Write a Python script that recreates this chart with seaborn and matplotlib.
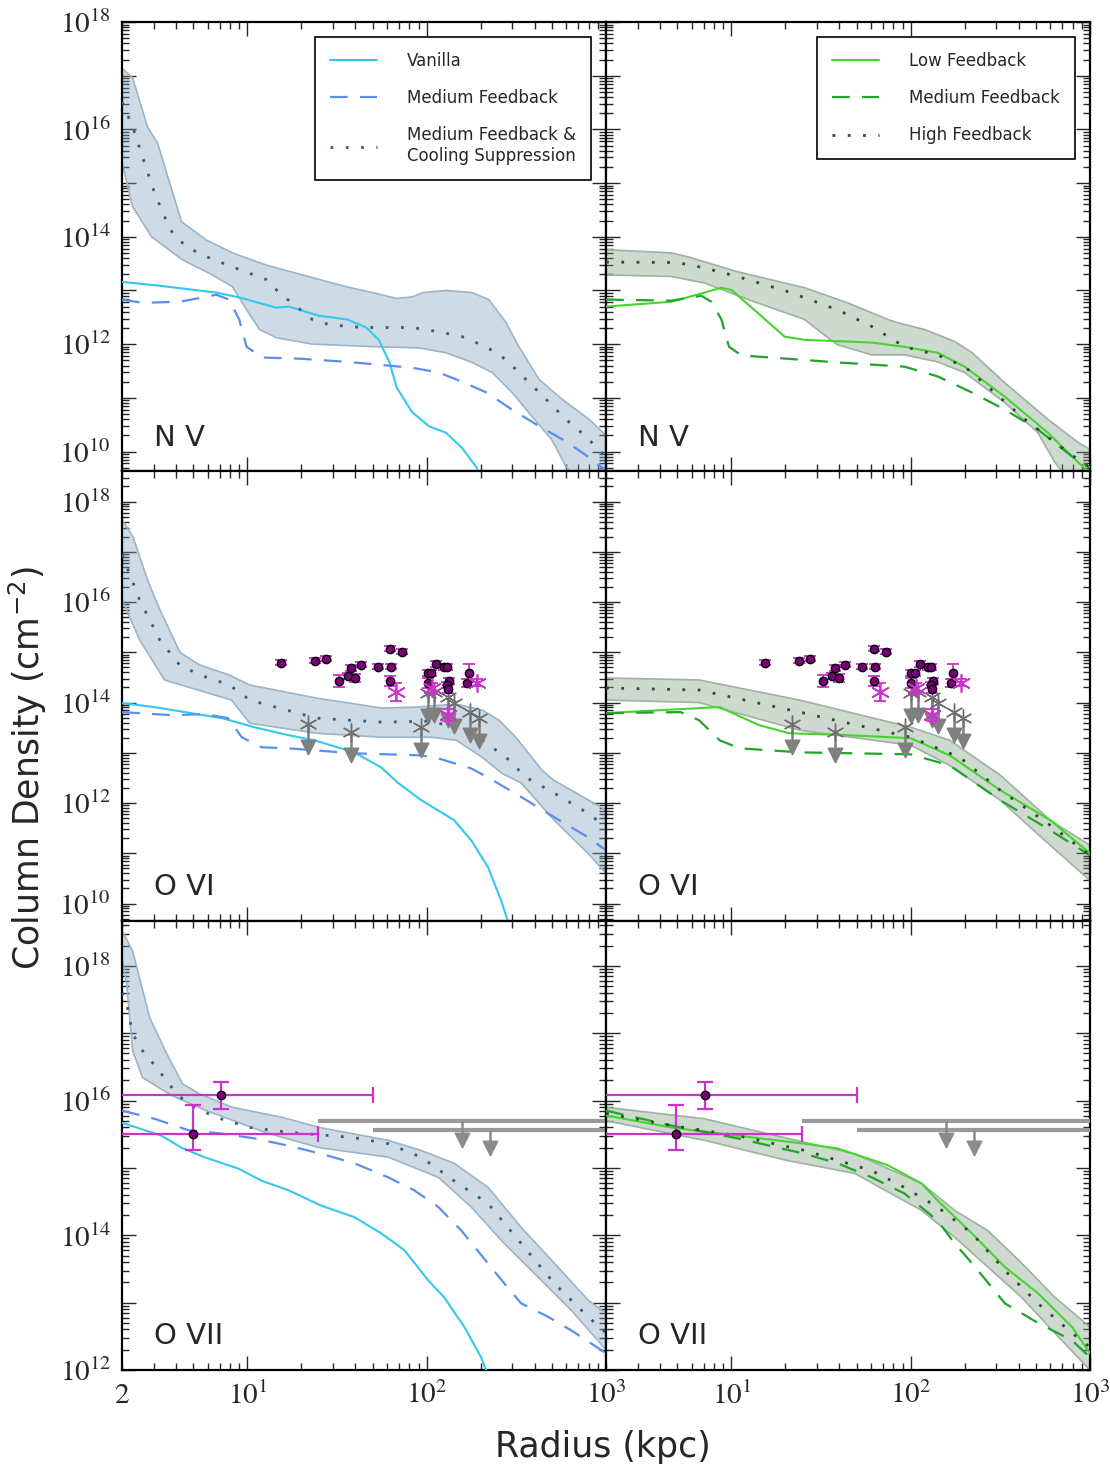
import numpy as np
import pandas as pd
import matplotlib
matplotlib.use("Agg")
import matplotlib.pyplot as plt
import seaborn as sns
from matplotlib.ticker import LogLocator, FuncFormatter, NullFormatter, FixedLocator

sns.set_style("ticks")
plt.rcParams["font.family"] = ["DejaVu Sans"]
plt.rcParams["mathtext.fontset"] = "stix"

# ---------------- data (log10 column density vs radius in kpc) ----------------
# N V, left panel
nv_van_x = [2, 3.2, 6.7, 9, 14.5, 17, 25, 36, 46, 54, 62, 68, 83, 103, 128, 157, 190, 200]
nv_van_y = [13.16, 13.09, 12.96, 12.87, 12.68, 12.70, 12.53, 12.46, 12.31, 12.08, 11.66, 11.19,
            10.73, 10.47, 10.35, 10.07, 9.70, 9.5]
nv_med_x = [2, 2.6, 4.2, 6.7, 7.9, 9.0, 9.9, 12.1, 19.5, 36, 83, 117, 157, 215, 299, 424, 597, 804, 1000]
nv_med_y = [12.83, 12.77, 12.79, 12.92, 12.83, 12.46, 11.95, 11.75, 11.73, 11.67, 11.56, 11.47,
            11.30, 11.10, 10.78, 10.47, 10.19, 9.89, 9.65]
nv_cs_x = [2, 2.29, 2.6, 2.95, 3.36, 3.82, 4.57, 5.9, 8.25, 12.8, 15.1, 18.8, 23, 28.7, 44, 83,
           117, 157, 215, 277, 358, 464, 597, 771, 910, 1000]
nv_cs_y = [16.51, 16.05, 15.49, 14.93, 14.45, 14.07, 13.81, 13.63, 13.44, 13.20, 12.95, 12.70,
           12.46, 12.36, 12.31, 12.31, 12.23, 12.14, 11.95, 11.71, 11.34, 10.97, 10.60, 10.28,
           10.04, 9.9]
nv_bandb_up_x = [2, 2.29, 2.77, 3.15, 4.29, 5.9, 8.25, 12.8, 23, 35.6, 50, 68, 83, 95, 128, 179,
                 222, 277, 327, 424, 570, 804, 1000]
nv_bandb_up_y = [17.14, 16.96, 16.05, 15.75, 14.28, 13.94, 13.70, 13.47, 13.24, 13.07, 12.96,
                 12.85, 12.88, 12.96, 13.0, 12.96, 12.83, 12.40, 11.95, 11.34, 10.97, 10.60, 10.3]
nv_bandb_lo_x = [2, 2.29, 2.92, 4.34, 6.37, 8.25, 9.9, 11.7, 14.5, 23, 54, 90, 128, 179, 232,
                 299, 387, 498, 597, 1000]
nv_bandb_lo_y = [15.38, 14.56, 14.0, 13.57, 13.29, 13.07, 12.64, 12.27, 12.12, 12.0, 11.95, 11.93,
                 11.84, 11.66, 11.47, 11.10, 10.65, 10.22, 9.72, 8.9]

# N V, right panel
nv_low_x = [2, 4.62, 7.07, 8.8, 10, 13.4, 19.8, 25.6, 60.6, 92.4, 141, 200, 335, 582, 857, 1000]
nv_low_y = [12.70, 12.79, 12.96, 13.05, 13.01, 12.64, 12.14, 12.08, 12.03, 11.95, 11.84, 11.58,
            11.02, 10.35, 9.8, 9.6]
nv_medg_x = [2, 4.62, 6.8, 7.73, 8.8, 9.7, 11.4, 16.7, 39, 92.4, 141, 219, 335, 512, 793, 1000]
nv_medg_y = [12.83, 12.81, 12.90, 12.79, 12.46, 11.95, 11.79, 11.75, 11.66, 11.58, 11.40, 11.10,
             10.78, 10.41, 9.91, 9.7]
nv_high_x = [2, 5.0, 7.07, 10.8, 20.6, 39, 60.6, 92.4, 141, 200, 269, 415, 636, 857, 1000]
nv_high_y = [13.53, 13.52, 13.42, 13.26, 12.98, 12.64, 12.33, 11.95, 11.80, 11.58, 11.21, 10.65,
             10.17, 9.85, 9.7]
nv_bandg_up_x = [2, 4.62, 5.68, 10.8, 25.6, 44.5, 74.5, 84.5, 120, 176, 220, 335, 582, 857, 1000]
nv_bandg_up_y = [13.76, 13.70, 13.63, 13.35, 13.05, 12.77, 12.46, 12.40, 12.27, 12.05, 11.84,
                 11.28, 10.6, 10.17, 10.04]
nv_bandg_lo_x = [2, 4.62, 7.07, 13.4, 25.6, 31.8, 39, 60.6, 92.4, 141, 200, 335, 512, 636, 1000]
nv_bandg_lo_y = [13.29, 13.26, 13.14, 12.79, 12.46, 12.21, 11.99, 11.80, 11.80, 11.67, 11.47,
                 10.91, 10.35, 9.8, 9.0]

# O VI, left panel
ovi_van_x = [2, 3.03, 7.2, 10.9, 17, 23.6, 39.4, 55.7, 69.3, 93, 120, 142, 177, 220, 260, 283, 300]
ovi_van_y = [13.99, 13.91, 13.69, 13.51, 13.35, 13.25, 13.01, 12.71, 12.40, 12.06, 11.82, 11.66,
             11.26, 10.72, 10.06, 9.66, 9.3]
ovi_med_x = [2, 3.78, 5.75, 7.8, 9.3, 12, 17, 39.4, 93, 116, 177, 220, 337, 513, 793, 1000]
ovi_med_y = [13.81, 13.75, 13.77, 13.69, 13.31, 13.11, 13.09, 12.99, 12.95, 12.89, 12.69, 12.51,
             12.12, 11.72, 11.32, 11.06]
ovi_cs_x = [2, 2.5, 3.24, 4.18, 5.41, 7.94, 10.3, 24.2, 56.5, 103, 146, 204, 277, 358, 513, 793, 1000]
ovi_cs_y = [16.95, 16.05, 15.25, 14.75, 14.55, 14.35, 14.05, 13.69, 13.61, 13.63, 13.51, 13.25,
            12.91, 12.51, 12.20, 11.80, 11.52]
ovi_bandb_up_x = [2, 2.3, 2.8, 3.2, 4.2, 5.4, 7.9, 10.3, 24.2, 56.5, 87, 146, 204, 253, 314, 440,
                  513, 638, 1000]
ovi_bandb_up_y = [17.64, 17.3, 16.4, 15.9, 15.0, 14.75, 14.55, 14.35, 14.09, 13.89, 13.91, 13.97,
                  13.85, 13.65, 13.31, 12.65, 12.45, 12.26, 11.86]
ovi_bandb_lo_x = [2, 2.5, 3.45, 8.15, 10.3, 24.2, 56.5, 107, 146, 204, 263, 336, 513, 793, 1000]
ovi_bandb_lo_y = [16.05, 15.25, 14.45, 14.05, 13.59, 13.39, 13.31, 13.31, 13.25, 12.91, 12.59,
                  12.40, 11.66, 11.0, 10.6]

# O VI, right panel
ovi_low_x = [2, 6.6, 8.6, 14.3, 21, 45.6, 100, 165, 315, 600, 1000]
ovi_low_y = [13.79, 13.89, 13.91, 13.55, 13.39, 13.35, 13.29, 12.95, 12.26, 11.66, 11.0]
ovi_medg_x = [2, 5.2, 6.6, 8.6, 11.1, 24, 100, 165, 315, 600, 1000]
ovi_medg_y = [13.79, 13.81, 13.65, 13.25, 13.09, 13.01, 12.97, 12.75, 12.06, 11.46, 10.96]
ovi_high_x = [2, 6.6, 24, 100, 188, 315, 600, 1000]
ovi_high_y = [14.29, 14.25, 13.81, 13.31, 12.91, 12.26, 11.56, 10.96]
ovi_bandg_up_x = [2, 6.6, 24, 100, 165, 315, 600, 1000]
ovi_bandg_up_y = [14.49, 14.45, 14.05, 13.51, 13.25, 12.56, 11.66, 11.16]
ovi_bandg_lo_x = [2, 6.6, 24, 100, 165, 315, 600, 1000]
ovi_bandg_lo_y = [14.05, 14.0, 13.45, 13.15, 12.75, 12.06, 11.16, 10.46]

# O VII, left panel
ovii_van_x = [2, 3.31, 4.29, 5.75, 8.9, 12, 16.9, 25.8, 39.4, 55.7, 75, 102, 125, 162, 201, 214, 230]
ovii_van_y = [15.67, 15.48, 15.30, 15.16, 14.99, 14.81, 14.67, 14.44, 14.27, 14.03, 13.78, 13.33,
              13.08, 12.64, 12.19, 12.0, 11.7]
ovii_med_x = [2, 3.03, 4.69, 7.16, 10.9, 16.9, 25.8, 39.4, 61, 85, 116, 156, 220, 270, 336, 475, 638, 1000]
ovii_med_y = [15.85, 15.73, 15.56, 15.51, 15.44, 15.33, 15.21, 15.07, 14.86, 14.67, 14.42, 14.07,
              13.58, 13.29, 12.99, 12.79, 12.59, 12.25]
ovii_cs_x = [2, 2.12, 2.29, 2.6, 3.11, 3.82, 4.57, 6.7, 10.3, 16.9, 39.4, 61, 93, 142, 220, 336,
             513, 793, 1000]
ovii_cs_y = [17.6, 17.44, 16.99, 16.74, 16.49, 16.18, 15.96, 15.75, 15.60, 15.53, 15.45, 15.36,
             15.16, 14.81, 14.47, 13.88, 13.29, 12.79, 12.55]
ovii_bandb_up_x = [2, 2.29, 2.85, 3.54, 4.34, 5.4, 8.25, 15.7, 25.2, 61, 93, 142, 220, 336, 513, 793, 1000]
ovii_bandb_up_y = [18.52, 18.22, 17.23, 16.70, 16.25, 16.10, 15.90, 15.75, 15.60, 15.41, 15.26,
                   15.07, 14.71, 14.12, 13.59, 13.04, 12.84]
ovii_bandb_lo_x = [2, 2.12, 2.29, 2.6, 3.82, 5.9, 12.8, 25.2, 61, 116, 177, 270, 418, 638, 1000]
ovii_bandb_lo_y = [18.1, 17.73, 16.74, 16.34, 16.07, 15.85, 15.52, 15.30, 15.16, 14.86, 14.42,
                   13.88, 13.38, 12.89, 12.30]

# O VII, right panel
ovii_low_x = [2, 4.62, 10.8, 25.6, 39, 74.5, 115, 141, 219, 335, 512, 793, 1000]
ovii_low_y = [15.78, 15.60, 15.48, 15.36, 15.29, 15.04, 14.77, 14.52, 14.03, 13.53, 13.14, 12.64, 12.25]
ovii_medg_x = [2, 4.62, 10.8, 25.6, 39, 60.6, 92.4, 141, 176, 219, 335, 512, 793, 1000]
ovii_medg_y = [15.85, 15.63, 15.44, 15.21, 15.07, 14.86, 14.62, 14.22, 13.88, 13.59, 12.99, 12.70,
               12.44, 12.19]
ovii_high_x = [2, 4.62, 10.8, 25.6, 60.6, 92.4, 141, 219, 335, 512, 793, 1000]
ovii_high_y = [15.81, 15.63, 15.48, 15.26, 14.96, 14.71, 14.42, 14.03, 13.48, 12.99, 12.55, 12.34]
ovii_bandg_up_x = [2, 7.07, 20.5, 48.6, 115, 176, 269, 415, 636, 1000]
ovii_bandg_up_y = [15.90, 15.73, 15.44, 15.21, 14.77, 14.37, 14.07, 13.59, 13.08, 12.64]
ovii_bandg_lo_x = [2, 7.07, 20.5, 48.6, 115, 176, 269, 415, 636, 1000]
ovii_bandg_lo_y = [15.70, 15.41, 15.11, 14.92, 14.37, 13.97, 13.53, 13.08, 12.55, 12.0]

# O VI observations
ovi_det_x = [15.3, 23.9, 27.5, 32.5, 36.4, 38, 40, 43, 53.7, 63.3, 62.7, 73, 62.7, 101, 106, 113,
             125, 130, 101, 133, 130, 132, 173, 168]
ovi_det_y = [14.79, 14.83, 14.87, 14.43, 14.53, 14.69, 14.49, 14.75, 14.71, 14.71, 15.07, 15.01,
             14.43, 14.59, 14.59, 14.77, 14.71, 14.71, 14.39, 14.43, 14.35, 14.27, 14.59, 14.39]
ovi_det_err = [0.05, 0.05, 0.05, 0.12, 0.06, 0.06, 0.08, 0.05, 0.05, 0.05, 0.05, 0.05, 0.10, 0.06,
               0.06, 0.06, 0.06, 0.06, 0.10, 0.06, 0.06, 0.08, 0.18, 0.08]
ovi_sat_x = [67.6, 107, 190, 132]
ovi_sat_y = [14.21, 14.29, 14.39, 13.75]
ovi_sat_err = [0.18, 0.10, 0.07, 0.12]
ovi_ul_x = [21.9, 38, 93, 101, 110, 132, 142, 174, 195]
ovi_ul_y = [13.57, 13.41, 13.51, 14.19, 14.21, 14.11, 13.99, 13.81, 13.69]

# O VII observations
ovii_det_x = [7.08, 4.94]
ovii_det_xlo = [1.0, 1.0]
ovii_det_xhi = [50.0, 24.8]
ovii_det_y = [16.09, 15.51]
ovii_det_ylo = [15.88, 15.27]
ovii_det_yhi = [16.28, 15.93]
ovii_ul_x = [157, 224]
ovii_ul_xlo = [24.8, 50.0]
ovii_ul_xhi = [1000.0, 1000.0]
ovii_ul_y = [15.69, 15.57]

ions = ["N V", "O VI", "O VII"]
ylims = [(10**9.63, 1e18), (10**9.66, 10**18.6), (1e12, 10**18.67)]
y_major = [[1e10, 1e11, 1e12, 1e13, 1e14, 1e15, 1e16, 1e17, 1e18],
           [1e10, 1e11, 1e12, 1e13, 1e14, 1e15, 1e16, 1e17, 1e18],
           [1e12, 1e13, 1e14, 1e15, 1e16, 1e17, 1e18]]
x_major = [10, 100, 1000]
x_minor = [2, 3, 4, 5, 6, 7, 8, 9, 20, 30, 40, 50, 60, 70, 80, 90,
           200, 300, 400, 500, 600, 700, 800, 900]

# ---------------- style ----------------
VAN = "#33c8f4"
MEDB = "#5b8ef2"
CSB = "#2f5f82"
BANDB_F = "#7f9fba"
BANDB_E = "#9cb4c8"
LOWG = "#44d62c"
MEDG = "#1fa52a"
HIGHG = "#2f4a2f"
BANDG_F = "#7f9b82"
BANDG_E = "#9db29f"
DASH = (0, (8, 5.5))
DOT = (0, (1, 4.5))

left_sets = [
    (nv_van_x, nv_van_y, nv_med_x, nv_med_y, nv_cs_x, nv_cs_y,
     nv_bandb_up_x, nv_bandb_up_y, nv_bandb_lo_x, nv_bandb_lo_y),
    (ovi_van_x, ovi_van_y, ovi_med_x, ovi_med_y, ovi_cs_x, ovi_cs_y,
     ovi_bandb_up_x, ovi_bandb_up_y, ovi_bandb_lo_x, ovi_bandb_lo_y),
    (ovii_van_x, ovii_van_y, ovii_med_x, ovii_med_y, ovii_cs_x, ovii_cs_y,
     ovii_bandb_up_x, ovii_bandb_up_y, ovii_bandb_lo_x, ovii_bandb_lo_y),
]
right_sets = [
    (nv_low_x, nv_low_y, nv_medg_x, nv_medg_y, nv_high_x, nv_high_y,
     nv_bandg_up_x, nv_bandg_up_y, nv_bandg_lo_x, nv_bandg_lo_y),
    (ovi_low_x, ovi_low_y, ovi_medg_x, ovi_medg_y, ovi_high_x, ovi_high_y,
     ovi_bandg_up_x, ovi_bandg_up_y, ovi_bandg_lo_x, ovi_bandg_lo_y),
    (ovii_low_x, ovii_low_y, ovii_medg_x, ovii_medg_y, ovii_high_x, ovii_high_y,
     ovii_bandg_up_x, ovii_bandg_up_y, ovii_bandg_lo_x, ovii_bandg_lo_y),
]

fig, axes = plt.subplots(3, 2, figsize=(11.1, 14.7), dpi=100, sharey="row")
fig.subplots_adjust(left=0.110, right=0.982, top=0.985, bottom=0.068, wspace=0, hspace=0)


def band(ax, ux, uy, lx, ly, fc, ec):
    xs = np.r_[np.asarray(ux, float), np.asarray(lx, float)[::-1]]
    ys = 10 ** np.r_[np.asarray(uy, float), np.asarray(ly, float)[::-1]]
    ax.fill(xs, ys, facecolor=fc, alpha=0.38, edgecolor="none", zorder=1)
    ax.plot(ux, 10 ** np.asarray(uy), color=ec, lw=1.2, zorder=1.5)
    ax.plot(lx, 10 ** np.asarray(ly), color=ec, lw=1.2, zorder=1.5)


def line(ax, x, y, color, ls, lw, label):
    df = pd.DataFrame({"r": x, "N": 10 ** np.asarray(y, float)})
    sns.lineplot(data=df, x="r", y="N", ax=ax, color=color, linestyle=ls, lw=lw,
                 label=label, errorbar=None, zorder=3)


def ovi_obs(ax):
    x = np.asarray(ovi_det_x)
    y = np.asarray(ovi_det_y)
    e = np.asarray(ovi_det_err)
    ax.errorbar(x, 10 ** y, yerr=[10 ** y - 10 ** (y - e), 10 ** (y + e) - 10 ** y], fmt="none",
                ecolor="#cc33cc", elinewidth=1.3, capsize=4, capthick=1.3, zorder=5)
    sns.scatterplot(x=x, y=10 ** y, ax=ax, color="#7a007a", edgecolor="black", linewidth=1.0,
                    s=36, zorder=6, legend=False)
    xs = np.asarray(ovi_sat_x)
    ys = np.asarray(ovi_sat_y)
    es = np.asarray(ovi_sat_err)
    ax.errorbar(xs, 10 ** ys, yerr=[10 ** ys - 10 ** (ys - es), 10 ** (ys + es) - 10 ** ys],
                fmt="none", ecolor="#cc33cc", elinewidth=1.3, capsize=4, capthick=1.3, zorder=5)
    ax.scatter(xs, 10 ** ys, marker=(6, 2, 0), s=160, color="#cc33cc", linewidths=1.2, zorder=6)
    xu = np.asarray(ovi_ul_x)
    yu = np.asarray(ovi_ul_y)
    ax.vlines(xu, 10 ** (yu - 0.45), 10 ** yu, color="#7f7f7f", lw=1.8, zorder=4)
    ax.scatter(xu, 10 ** (yu - 0.45), marker="v", s=110, color="#7f7f7f", zorder=4)
    ax.scatter(xu, 10 ** yu, marker=(6, 2, 0), s=150, color="#6f6f6f", linewidths=1.0, zorder=4)


def ovii_obs(ax):
    x = np.asarray(ovii_det_x)
    y = np.asarray(ovii_det_y)
    ax.errorbar(x, 10 ** y,
                xerr=[x - np.asarray(ovii_det_xlo), np.asarray(ovii_det_xhi) - x],
                yerr=[10 ** y - 10 ** np.asarray(ovii_det_ylo), 10 ** np.asarray(ovii_det_yhi) - 10 ** y],
                fmt="none", ecolor="#cc33cc", elinewidth=1.6, capsize=6, capthick=1.6, zorder=5)
    sns.scatterplot(x=x, y=10 ** y, ax=ax, color="#7a007a", edgecolor="black", linewidth=1.0,
                    s=36, zorder=6, legend=False)
    xu = np.asarray(ovii_ul_x)
    yu = np.asarray(ovii_ul_y)
    ax.hlines(10 ** yu, ovii_ul_xlo, ovii_ul_xhi, color="#9a9a9a", lw=3.0, zorder=4)
    ax.vlines(xu, 10 ** (yu - 0.28), 10 ** yu, color="#8a8a8a", lw=1.8, zorder=4)
    ax.scatter(xu, 10 ** (yu - 0.28), marker="v", s=110, color="#8a8a8a", zorder=4)


def ytick_fmt(v, pos):
    n = int(round(np.log10(v)))
    return r"$10^{%d}$" % n if n % 2 == 0 else ""


for row in range(3):
    axl, axr = axes[row]
    (vx, vy, mx, my, cx, cy, ux, uy, lx, ly) = left_sets[row]
    axl.set_xscale("log")
    axl.set_yscale("log")
    band(axl, ux, uy, lx, ly, BANDB_F, BANDB_E)
    line(axl, vx, vy, VAN, "-", 1.5, "Vanilla")
    line(axl, mx, my, MEDB, DASH, 1.6, "Medium Feedback")
    line(axl, cx, cy, CSB, DOT, 2.0, "Medium Feedback &\nCooling Suppression")

    (vx, vy, mx, my, cx, cy, ux, uy, lx, ly) = right_sets[row]
    axr.set_xscale("log")
    axr.set_yscale("log")
    band(axr, ux, uy, lx, ly, BANDG_F, BANDG_E)
    line(axr, vx, vy, LOWG, "-", 1.5, "Low Feedback")
    line(axr, mx, my, MEDG, DASH, 1.6, "Medium Feedback")
    line(axr, cx, cy, HIGHG, DOT, 2.0, "High Feedback")

    if row == 1:
        ovi_obs(axl)
        ovi_obs(axr)
    if row == 2:
        ovii_obs(axl)
        ovii_obs(axr)

    for j, ax in enumerate((axl, axr)):
        ax.set_xlim(2, 1000)
        ax.set_ylim(*ylims[row])
        ax.set_xlabel("")
        ax.set_ylabel("")
        ax.text(0.065, 0.075, ions[row], transform=ax.transAxes, fontsize=21, va="center",
                ha="left", zorder=10)
        ax.xaxis.set_major_locator(FixedLocator(x_major))
        ax.xaxis.set_minor_locator(FixedLocator(x_minor))
        ax.yaxis.set_major_locator(FixedLocator(y_major[row]))
        ax.yaxis.set_minor_locator(LogLocator(base=10, subs=np.arange(2, 10) * 1.0, numticks=100))
        ax.yaxis.set_major_formatter(FuncFormatter(ytick_fmt))
        ax.yaxis.set_minor_formatter(NullFormatter())
        if row == 2:
            ax.xaxis.set_major_formatter(FuncFormatter(lambda v, p: r"$10^{%d}$" % int(round(np.log10(v)))))
            if j == 0:
                ax.xaxis.set_minor_formatter(FuncFormatter(lambda v, p: r"$2$" if abs(v - 2) < 1e-6 else ""))
            else:
                ax.xaxis.set_minor_formatter(NullFormatter())
        else:
            ax.xaxis.set_major_formatter(NullFormatter())
            ax.xaxis.set_minor_formatter(NullFormatter())
        ax.tick_params(which="both", direction="in", top=True, right=True, labelsize=21, pad=8)
        ax.tick_params(which="major", length=10, width=1.0)
        ax.tick_params(which="minor", length=5, width=1.0)
        if j == 1:
            ax.tick_params(labelleft=False)
        for s in ax.spines.values():
            s.set_linewidth(1.6)
            s.set_color("black")
        if row != 0 and ax.get_legend() is not None:
            ax.get_legend().remove()

leg_kw = dict(loc="upper right", fontsize=12, frameon=True, fancybox=False, framealpha=1,
              edgecolor="black", handlelength=2.8, handletextpad=1.8, labelspacing=1.15,
              borderpad=0.9, borderaxespad=0.9)
lg = axes[0, 0].legend(**leg_kw)
lg.get_frame().set_linewidth(1.2)
lg = axes[0, 1].legend(**leg_kw)
lg.get_frame().set_linewidth(1.2)

fig.text(0.024, 0.478, r"Column Density (cm$^{\mathregular{-2}}$)", rotation=90, fontsize=25,
         ha="center", va="center")
fig.text(0.543, 0.0156, "Radius (kpc)", fontsize=25, ha="center", va="center")

fig.savefig("out.png", dpi=100)
